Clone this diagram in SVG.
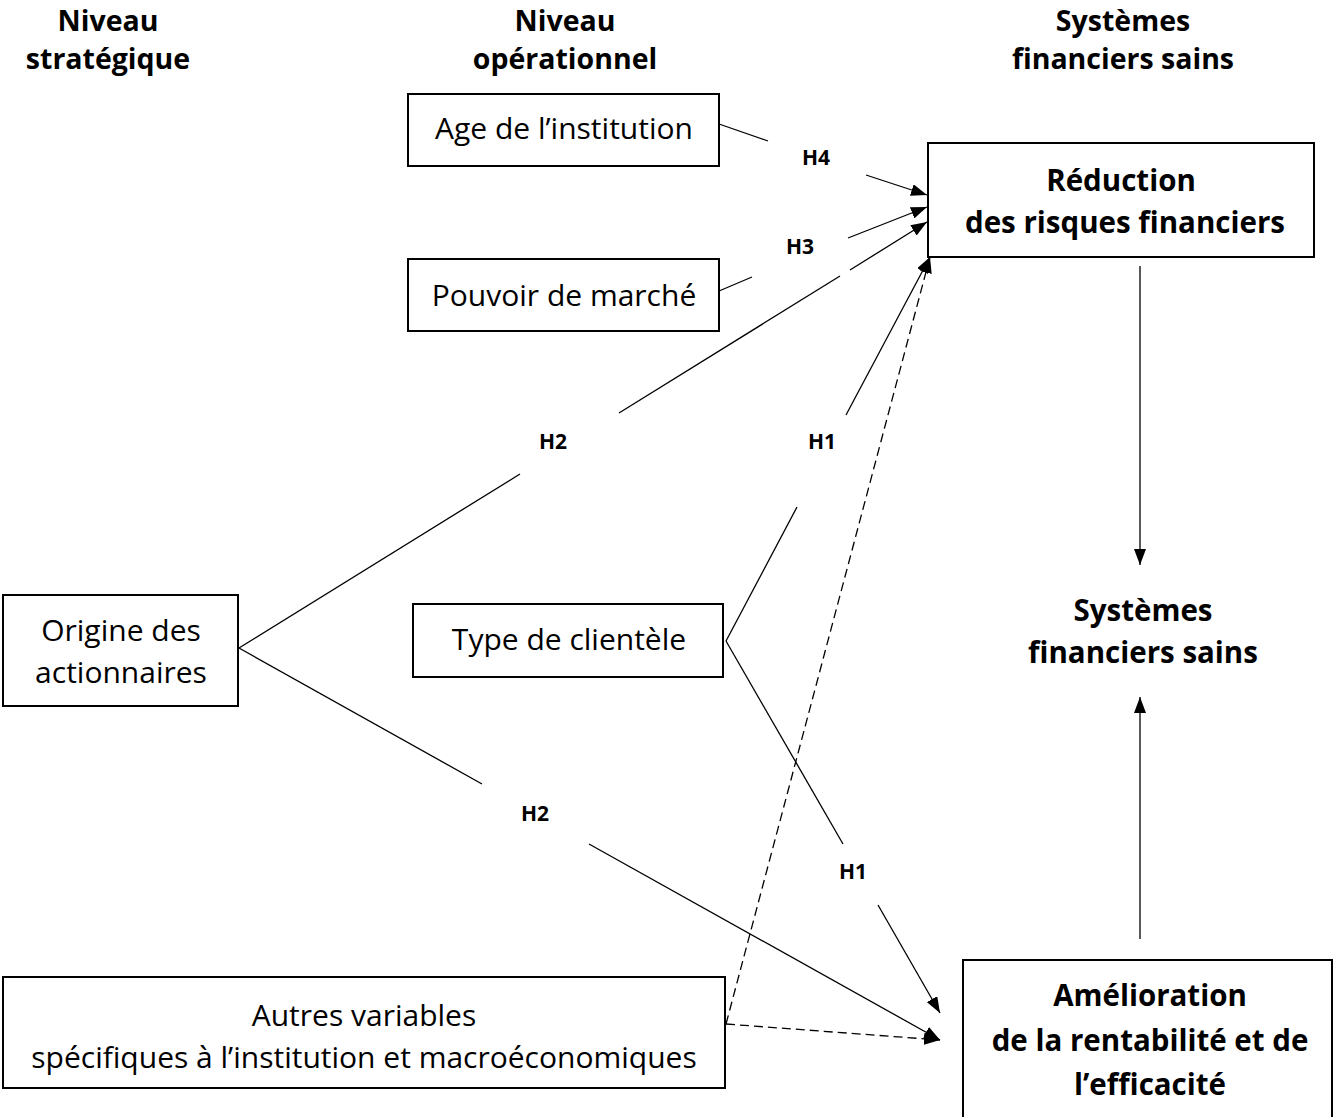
<svg xmlns="http://www.w3.org/2000/svg" width="1337" height="1117" viewBox="0 0 1337 1117">
<style>
.box{fill:#fff;stroke:#000;stroke-width:2}
.t{font-family:"Open Sans","Noto Sans","Liberation Sans",sans-serif;font-size:30px;fill:#000;text-anchor:middle}
.b{font-family:"Open Sans","Noto Sans","Liberation Sans",sans-serif;font-size:29.5px;font-weight:bold;fill:#000;text-anchor:middle}
.h{font-family:"Open Sans","Noto Sans","Liberation Sans",sans-serif;font-size:28.5px;font-weight:bold;fill:#000;text-anchor:middle}
.lbl{font-family:"Open Sans","Noto Sans","Liberation Sans",sans-serif;font-size:21px;font-weight:bold;fill:#000;text-anchor:middle}
.c{fill:none;stroke:#000;stroke-width:1.3}
.d{fill:none;stroke:#000;stroke-width:1.3;stroke-dasharray:9 5}
</style>
<defs>
<marker id="ah" viewBox="0 0 16 12" refX="16" refY="6" markerWidth="16" markerHeight="12" markerUnits="userSpaceOnUse" orient="auto">
<path d="M0,0 L16,6 L0,12 Z" fill="#000"/>
</marker>
</defs>
<rect width="1337" height="1117" fill="#fff"/>

<g id="headers">
<text class="h" x="108" y="31">Niveau</text>
<text class="h" x="108" y="69">stratégique</text>
<text class="h" x="565" y="31">Niveau</text>
<text class="h" x="565" y="69">opérationnel</text>
<text class="h" x="1123" y="31">Systèmes</text>
<text class="h" x="1123" y="69">financiers sains</text>
</g>

<g id="connectors">
<path class="c" d="M719,124 L768,141"/>
<path class="c" d="M866,175 L927,195" marker-end="url(#ah)"/>
<path class="c" d="M719,291 L752,277"/>
<path class="c" d="M848,238 L927,207" marker-end="url(#ah)"/>
<path class="c" d="M239,648 L520,474"/>
<path class="c" d="M619,413 L840,276"/>
<path class="c" d="M850,270 L927,222" marker-end="url(#ah)"/>
<path class="c" d="M726,641 L797,507"/>
<path class="c" d="M846,415 L930,257" marker-end="url(#ah)"/>
<path class="c" d="M726,641 L843,844"/>
<path class="c" d="M878,905 L940,1013" marker-end="url(#ah)"/>
<path class="c" d="M239,648 L482,784"/>
<path class="c" d="M589,844 L940,1040" marker-end="url(#ah)"/>
<path class="d" d="M726,1024 L940,1040" marker-end="url(#ah)"/>
<path class="d" d="M726,1024 L930,257" marker-end="url(#ah)"/>
<path class="c" d="M1140,266 L1140,565" marker-end="url(#ah)"/>
<path class="c" d="M1140,939 L1140,697" marker-end="url(#ah)"/>
<text class="lbl" x="816" y="165">H4</text>
<text class="lbl" x="800" y="254">H3</text>
<text class="lbl" x="553" y="449">H2</text>
<text class="lbl" x="822" y="449">H1</text>
<text class="lbl" x="535" y="821">H2</text>
<text class="lbl" x="853" y="879">H1</text>
</g>

<g id="age">
<rect class="box" x="408" y="94" width="311" height="72"/>
<text class="t" x="564" y="139">Age de l’institution</text>
</g>
<g id="pouvoir">
<rect class="box" x="408" y="259" width="311" height="72"/>
<text class="t" x="564" y="306">Pouvoir de marché</text>
</g>
<g id="reduction">
<rect class="box" x="928" y="143" width="386" height="114"/>
<text class="b" x="1121" y="191">Réduction</text>
<text class="b" x="1125" y="233">des risques financiers</text>
</g>
<g id="origine">
<rect class="box" x="3" y="595" width="235" height="111"/>
<text class="t" x="121" y="641">Origine des</text>
<text class="t" x="121" y="683">actionnaires</text>
</g>
<g id="type">
<rect class="box" x="413" y="604" width="310" height="73"/>
<text class="t" x="569" y="650">Type de clientèle</text>
</g>
<g id="systemes">
<text class="b" x="1143" y="621">Systèmes</text>
<text class="b" x="1143" y="663">financiers sains</text>
</g>
<g id="autres">
<rect class="box" x="3" y="977" width="722" height="111"/>
<text class="t" x="364" y="1026">Autres variables</text>
<text class="t" x="364" y="1068">spécifiques à l’institution et macroéconomiques</text>
</g>
<g id="amelioration">
<rect class="box" x="963" y="960" width="369" height="180"/>
<text class="b" x="1150" y="1006">Amélioration</text>
<text class="b" x="1150" y="1051">de la rentabilité et de</text>
<text class="b" x="1150" y="1095">l’efficacité</text>
</g>
</svg>
